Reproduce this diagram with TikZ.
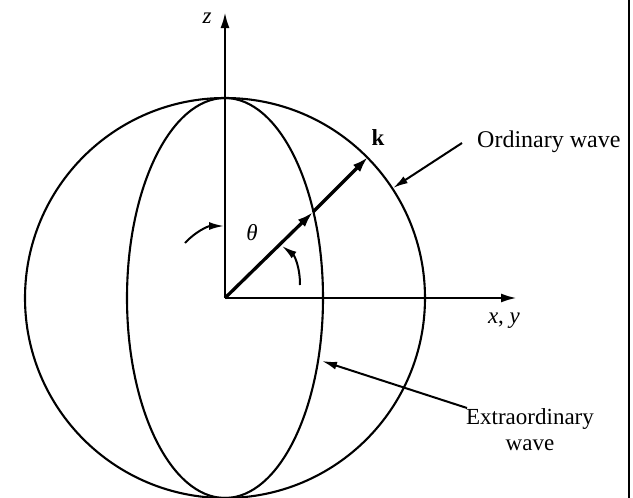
\documentclass[tikz,border=0pt]{standalone}
\usepackage{fontspec}
\setmainfont{Liberation Serif}
\usetikzlibrary{arrows.meta}
\begin{document}
\begin{tikzpicture}[x=1pt,y=-1pt,
  curve/.style={line width=2.1pt},
  axis/.style={line width=2.6pt,-{Latex[length=16pt,width=9pt]}},
  pointer/.style={line width=2pt,-{Latex[length=15pt,width=8pt]}},
  lbl/.style={font=\fontsize{23}{26}\selectfont,inner sep=0pt}]
\useasboundingbox (0,0) rectangle (633,498);
\draw[line width=1.8pt] (629,0) -- (629,498);
\coordinate (O) at (225,298);
\coordinate (ztip) at (225,12);
\coordinate (xtip) at (517,298);
\coordinate (E) at (313,212);
\coordinate (K) at (368,157);
% sphere and ellipse
\draw[curve] (O) circle [radius=200pt];
\draw[curve] (O) ellipse [x radius=98pt, y radius=200pt];
% axes
\draw[axis] (O) -- (ztip);
\draw[axis] (O) -- (xtip);
% k vector
\draw[line width=3.3pt,-{Latex[length=16pt,width=10pt]}] (O) -- (E);
\draw[line width=3.3pt,-{Latex[length=16pt,width=10pt]}] (E) -- (K);
% angle arrows
\coordinate (a1s) at (185,243);
\coordinate (a1e) at (224,226);
\draw[pointer] (a1s) .. controls (195,232) and (208,226) .. (a1e);
\coordinate (a2s) at (300,285);
\coordinate (a2e) at (282,246);
\draw[pointer] (a2s) .. controls (300,266) and (294,255) .. (a2e);
% labels
\node[lbl] (zl) at (207,18) {\textit{z}};
\node[lbl] (th) at (252,233) {\textit{θ}};
\node[lbl] (kl) at (378,138) {\textbf{k}};
\node[lbl] (xy) at (504,321) {\textit{x}, \textit{y}};
\node[lbl,anchor=west,font=\fontsize{24}{26}\selectfont] (ord) at (477,142) {Ordinary wave};
\node[lbl,align=center] (ext) at (530,430) {Extraordinary\\wave};
\coordinate (ords) at (462,143);
\coordinate (ordt) at (393,188);
\draw[pointer] (ords) -- (ordt);
\coordinate (exts) at (467,408);
\coordinate (extt) at (322,361);
\draw[pointer] (exts) -- (extt);
\end{tikzpicture}
\end{document}
